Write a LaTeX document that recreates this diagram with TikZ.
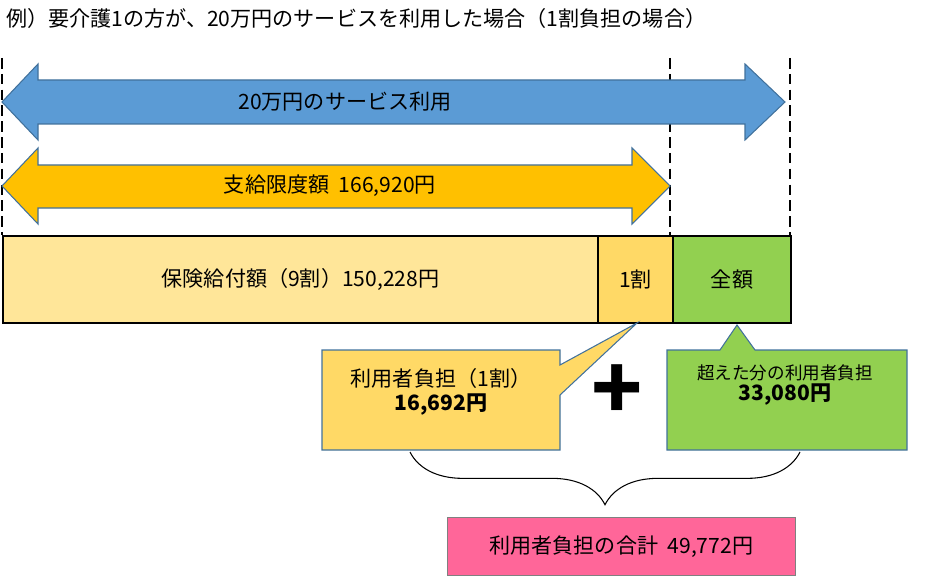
\documentclass[tikz,border=0pt]{standalone}
\usepackage{fontspec}
\setmainfont{Noto Sans CJK JP}
\usetikzlibrary{shapes.arrows,decorations.pathreplacing}
\definecolor{arrblue}{HTML}{5B9BD5}
\definecolor{arrorange}{HTML}{FFC000}
\definecolor{paleyel}{HTML}{FFE699}
\definecolor{yel}{HTML}{FFD966}
\definecolor{grn}{HTML}{92D050}
\definecolor{pnk}{HTML}{FF6699}
\definecolor{edgeblue}{HTML}{41719C}
\tikzset{
	px/.style={x=0.02cm,y=-0.02cm},
	dblarrow/.style={draw=edgeblue,line width=0.6pt},
	barbox/.style={draw=black,line width=1.2pt},
	callout/.style={draw=edgeblue,line width=0.6pt},
	txt/.style={font=\large}
}
\begin{document}
\begin{tikzpicture}[px]
		
		\useasboundingbox (0,0) rectangle (947,588);
		
		\node[anchor=west,txt] (title) at (0,18) {例）要介護1の方が、20万円のサービスを利用した場合（1割負担の場合）};
		
		% dashed guides
		\foreach \X/\Y in {2/235, 670/235, 790/235}{
			\draw[dash pattern=on 6pt off 3pt,line width=1.4pt] (\X,58)--(\X,\Y);
		}
		
		% arrows
		\draw[dblarrow,fill=arrblue] (2,102)--(38,64)--(38,80)--(745,80)--(745,64)--(785,102)
			--(745,140)--(745,124)--(38,124)--(38,140)--cycle;
		\node[txt] (use) at (345,102) {20万円のサービス利用};
		\draw[dblarrow,fill=arrorange] (2,186)--(38,148)--(38,165)--(632,165)--(632,148)--(670,186)
			--(632,224)--(632,208)--(38,208)--(38,224)--cycle;
		\node[txt] (limit) at (330,186) {支給限度額\ \ 166,920円};
		
		% bar
		\node[barbox,fill=paleyel,minimum width=595*0.02cm,minimum height=87*0.02cm,anchor=north west,txt] (ins) at (2,235) {保険給付額（9割）150,228円};
		\node[barbox,fill=yel,minimum width=75*0.02cm,minimum height=87*0.02cm,anchor=north west,txt] (one) at (597,235) {1割};
		\node[barbox,fill=grn,minimum width=118*0.02cm,minimum height=87*0.02cm,anchor=north west,txt] (full) at (672,235) {全額};
		
		% callouts
		\draw[callout,fill=yel] (322,350)--(560,350)--(560,365)--(637,323)--(560,395)--(560,450)--(322,450)--cycle;
		\node[txt,align=center] (own) at (441,392) {利用者負担（1割）\\\textbf{16,692円}};
		\node[font=\fontsize{48}{48}\bfseries] (plus) at (617,392) {+};
		\draw[callout,fill=grn] (667,350)--(720,350)--(737,325)--(755,350)--(907,350)--(907,450)--(667,450)--cycle;
		\node[align=center] (over) at (785,385) {超えた分の利用者負担\\\large\textbf{33,080円}};
		
		% brace and total
		\draw[decorate,decoration={brace,amplitude=30pt,mirror},line width=0.6pt] (410,452)--(800,452);
		\node[draw=gray,fill=pnk,minimum width=348*0.02cm,minimum height=58*0.02cm,anchor=north west,txt] (total) at (447,517) {利用者負担の合計\ \ 49,772円};
		\end{tikzpicture}
\end{document}
